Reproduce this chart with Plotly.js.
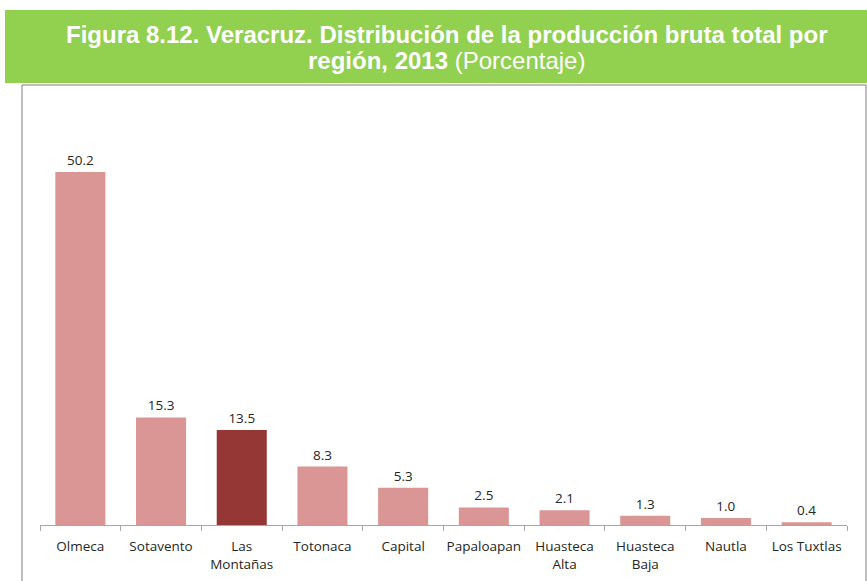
<!DOCTYPE html>
<html><head><meta charset="utf-8">
<script src="https://cdn.plot.ly/plotly-3.0.1.min.js"></script>
<style>body{margin:0;background:#fff}#c{width:867px;height:581px}</style>
</head><body><div id="c"></div>
<script>
const categories = ["Olmeca","Sotavento","Las<br>Montañas","Totonaca","Capital","Papaloapan","Huasteca<br>Alta","Huasteca<br>Baja","Nautla","Los Tuxtlas"];
const values = [50.2,15.3,13.5,8.3,5.3,2.5,2.1,1.3,1.0,0.4];
const labels = ["50.2","15.3","13.5","8.3","5.3","2.5","2.1","1.3","1.0","0.4"];
const highlight = "Las<br>Montañas";

const colors = categories.map(c => c === highlight ? "#953735" : "#D99694");
const font = "Open Sans, Liberation Sans, sans-serif";
const trace = {
  type: "bar", x: categories, y: values,
  text: labels, textposition: "outside", cliponaxis: false,
  textfont: {family: font, size: 13.5, color: "#262626"},
  marker: {color: colors, line: {width: 0}},
  hoverinfo: "x+y"
};
const W = 807, H = 422, L = 40, T = 103;
const px = x => (x - L) / W, py = y => (T + H - y) / H;
const titleFont = {family: "Liberation Sans, Arial, sans-serif", size: 24, color: "#fff"};
const layout = {
  width: 867, height: 581,
  margin: {l: L, r: 867 - L - W, t: T, b: 581 - T - H},
  paper_bgcolor: "#fff", plot_bgcolor: "#fff",
  showlegend: false, bargap: 0.38,
  xaxis: {type: "category", showline: true, linecolor: "#A6A6A6", linewidth: 1,
    ticks: "outside", tickson: "boundaries", ticklen: 5, tickcolor: "#A6A6A6",
    tickangle: 0, automargin: false, ticklabelstandoff: 9,
    tickfont: {family: font, size: 13.5, color: "#262626"}, fixedrange: true},
  yaxis: {range: [0, 60], visible: false, showgrid: false, zeroline: false, fixedrange: true},
  shapes: [
    {type: "rect", xref: "paper", yref: "paper", x0: px(5), x1: px(880), y0: py(83), y1: py(10),
     fillcolor: "#92D050", line: {width: 0}, layer: "below"},
    {type: "rect", xref: "paper", yref: "paper", x0: px(22), x1: px(866), y0: py(600), y1: py(85),
     fillcolor: "rgba(0,0,0,0)", line: {color: "#7F7F7F", width: 1}, layer: "below"}
  ],
  annotations: [
    {xref: "paper", yref: "paper", x: px(446), y: py(35), xanchor: "center", yanchor: "middle",
     showarrow: false, text: "<b>Figura 8.12. Veracruz. Distribución de la producción bruta total por</b>",
     font: titleFont},
    {xref: "paper", yref: "paper", x: px(446), y: py(61), xanchor: "center", yanchor: "middle",
     showarrow: false, text: "<b>región, 2013</b> (Porcentaje)",
     font: titleFont}
  ]
};
Plotly.newPlot("c", [trace], layout, {displayModeBar: false, staticPlot: true});
</script></body></html>
